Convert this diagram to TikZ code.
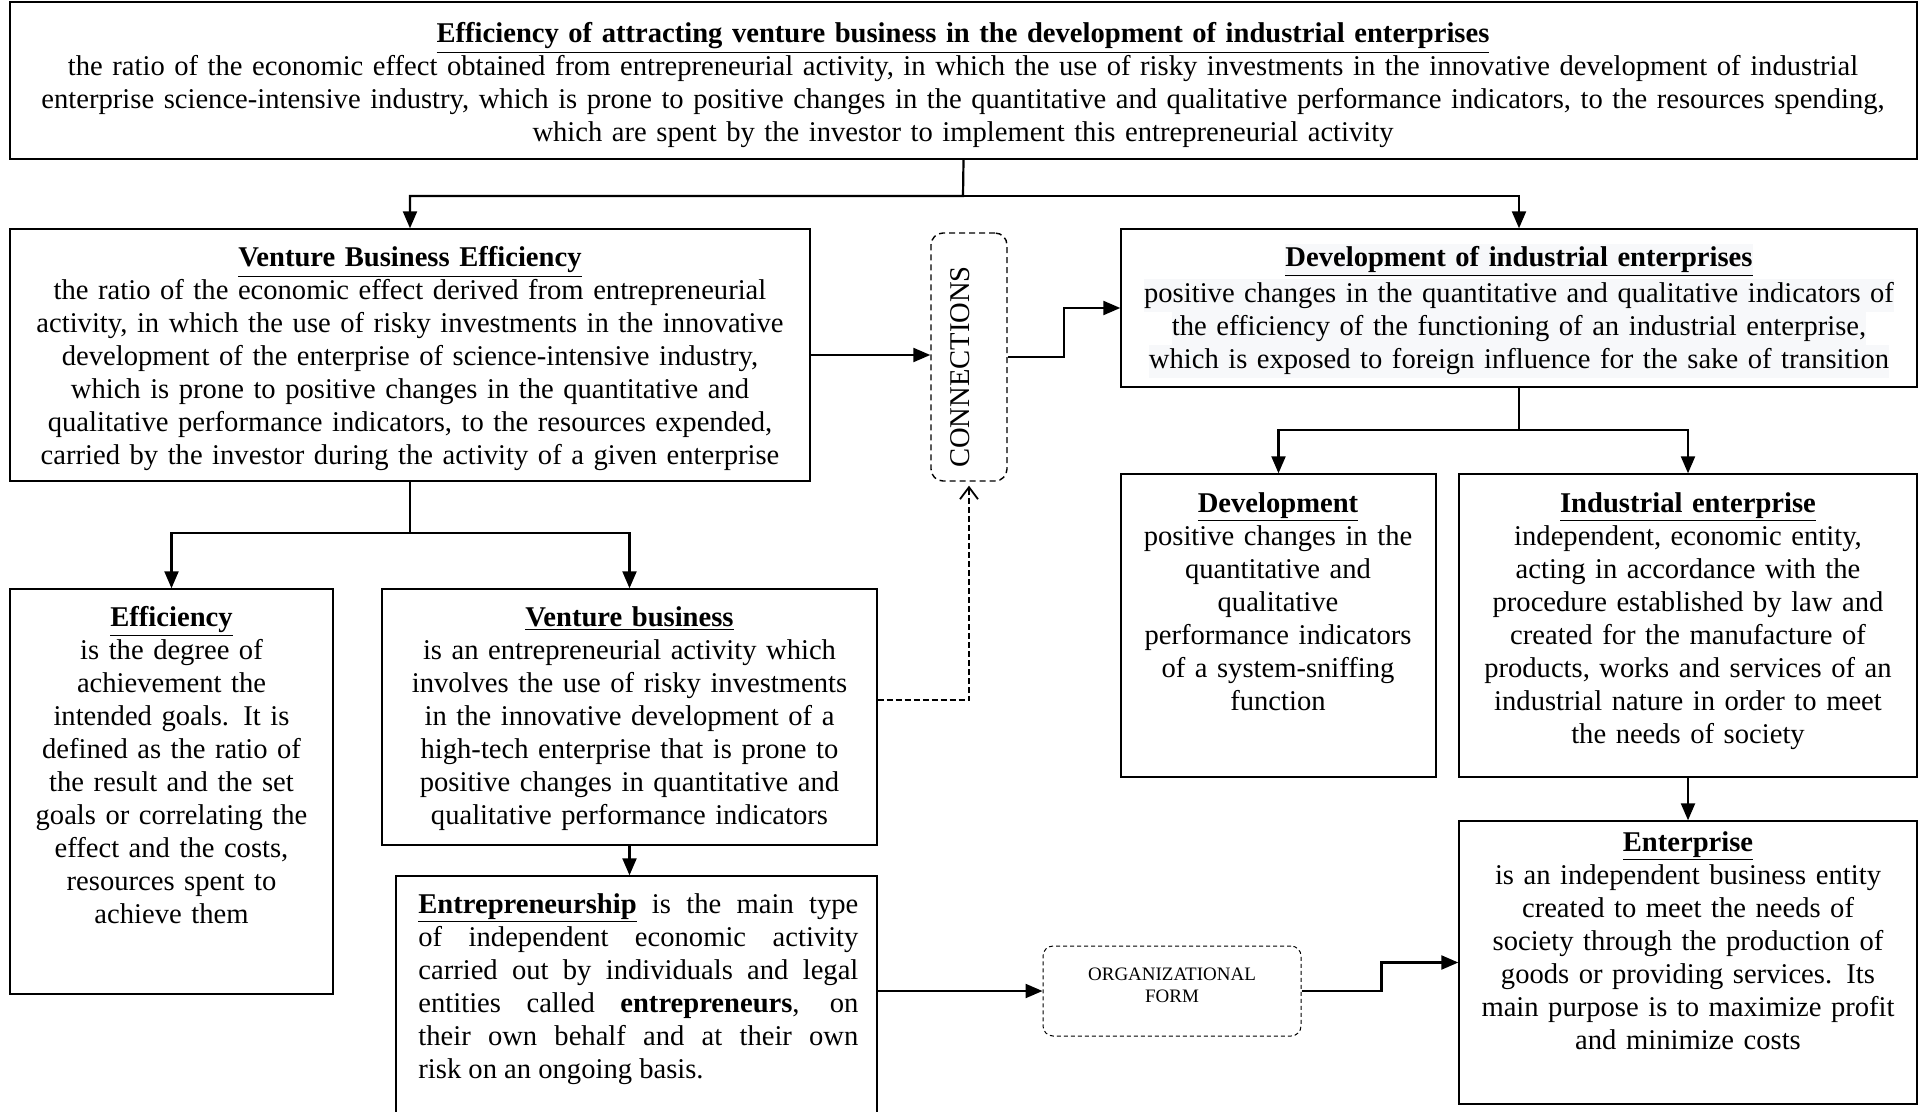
\documentclass[tikz,border=0pt]{standalone}
\usepackage{fontspec}
\setmainfont{Liberation Serif}
\usetikzlibrary{arrows.meta, positioning, fit}
\definecolor{hl}{HTML}{F7F8FA}
\setlength{\fboxsep}{0pt}

\tikzset{
  frame/.style={draw, line width=0.7pt, inner sep=0pt},
  dashframe/.style={draw, dash pattern=on 3pt off 2pt, rounded corners=6pt, line width=0.7pt, inner sep=0pt},
  txt/.style={align=center, inner sep=0pt, anchor=base, font=\fontsize{14.3}{16.5}\selectfont},
  link/.style={line width=1.1pt},
}

\begin{document}
\begin{tikzpicture}[x=0.5pt, y=-0.5pt, >={Triangle[length=8.5pt,width=7pt]}]
	\useasboundingbox (0,0) rectangle (1921,1112);
	\clip (0,0) rectangle (1921,1112);
	\fill[white] (0,0) rectangle (1921,1112);

	% boxes
	\node[frame, fit={(10,2) (1917,159)}] (top) {};
	\node[frame, fit={(10,229) (810,481)}] (vbe) {};
	\node[dashframe, fit={(931,233) (1007,481)}] (conn) {};
	\node[frame, fit={(1121,229) (1917,387)}] (die) {};
	\node[frame, fit={(1121,474) (1436,777)}] (dev) {};
	\node[frame, fit={(1459,474) (1917,777)}] (ind) {};
	\node[frame, fit={(10,589) (333,994)}] (eff) {};
	\node[frame, fit={(382,589) (877,845)}] (vb) {};
	\node[frame, fit={(396,876) (877,1130)}] (entr) {};
	\node[dashframe, dash pattern=on 2pt off 1.5pt, rounded corners=5pt, line width=0.5pt, fit={(1043,946) (1301,1036)}] (org) {};
	\node[frame, fit={(1459,821) (1917,1104)}] (ent) {};

	% texts
	\node[txt, text width=950pt] (topt) at (963,43) {\underline{\textbf{Efficiency of attracting venture business in the development of industrial enterprises}}\\
		the ratio of the economic effect obtained from entrepreneurial activity, in which the use of risky investments in the innovative development of industrial\\
		enterprise science-intensive industry, which is prone to positive changes in the quantitative and qualitative performance indicators, to the resources spending,\\
		which are spent by the investor to implement this entrepreneurial activity};
	\node[txt, text width=420pt] (vbet) at (410,267) {\underline{\textbf{Venture Business Efficiency}}\\
		the ratio of the economic effect derived from entrepreneurial\\
		activity, in which the use of risky investments in the innovative\\
		development of the enterprise of science-intensive industry,\\
		which is prone to positive changes in the quantitative and\\
		qualitative performance indicators, to the resources expended,\\
		carried by the investor during the activity of a given enterprise};
	\node[txt, rotate=90] (connt) at (969,367) {CONNECTIONS};
	\node[txt, text width=420pt] (diet) at (1519,267) {\colorbox{hl}{\strut\underline{\textbf{Development of industrial enterprises}}}\\
		\colorbox{hl}{\strut positive changes in the quantitative and qualitative indicators of}\\
		\colorbox{hl}{\strut the efficiency of the functioning of an industrial enterprise,}\\
		\colorbox{hl}{\strut which is exposed to foreign influence for the sake of transition}};
	\node[txt, text width=200pt] (devt) at (1278,512) {\underline{\textbf{Development}}\\
		positive changes in the\\
		quantitative and\\
		qualitative\\
		performance indicators\\
		of a system-sniffing\\
		function};
	\node[txt, text width=260pt] (indt) at (1688,512) {\underline{\textbf{Industrial enterprise}}\\
		independent, economic entity,\\
		acting in accordance with the\\
		procedure established by law and\\
		created for the manufacture of\\
		products, works and services of an\\
		industrial nature in order to meet\\
		the needs of society};
	\node[txt, text width=200pt] (efft) at (171.5,626) {\underline{\textbf{Efficiency}}\\
		is the degree of\\
		achievement the\\
		intended goals. It is\\
		defined as the ratio of\\
		the result and the set\\
		goals or correlating the\\
		effect and the costs,\\
		resources spent to\\
		achieve them};
	\node[txt, text width=280pt] (vbt) at (629.5,626) {\underline{\textbf{Venture business}}\\
		is an entrepreneurial activity which\\
		involves the use of risky investments\\
		in the innovative development of a\\
		high-tech enterprise that is prone to\\
		positive changes in quantitative and\\
		qualitative performance indicators};
	\node[txt, align=justify, anchor=base west, text width=220pt] (entrt) at (418,913) {\underline{\textbf{Entrepreneurship}} is the main type\linebreak
		of independent economic activity\linebreak
		carried out by individuals and legal\linebreak
		entities called \textbf{entrepreneurs}, on\linebreak
		their own behalf and at their own\linebreak
		risk on an ongoing basis.};
	\node[txt, font=\fontsize{9.5}{11}\selectfont, text width=120pt] (orgt) at (1172,980) {ORGANIZATIONAL\\FORM};
	\node[txt, text width=260pt] (entt) at (1688,851) {\underline{\textbf{Enterprise}}\\
		is an independent business entity\\
		created to meet the needs of\\
		society through the production of\\
		goods or providing services. Its\\
		main purpose is to maximize profit\\
		and minimize costs};

	% connectors
	\coordinate (j1) at (963,196);
	\draw[link,->] (top.south) -- (j1) -| (vbe.north);
	\draw[link,->] (j1) -| (die.north);
	\draw[link,->] (vbe.east) -- (vbe.east -| conn.west);
	\draw[link,->] (conn.east) -- ++(56,0) |- (die.west);
	\coordinate (j2) at (1519,430);
	\draw[link,->] (die.south) -- (j2) -| (dev.north);
	\draw[link,->] (j2) -| (ind.north);
	\coordinate (j3) at (410,533);
	\draw[link,->] (vbe.south) -- (j3) -| (eff.north);
	\draw[link,->] (j3) -| (vb.north);
	\draw[link,->] (vb.south) -- (vb.south |- entr.north);
	\draw[line width=0.9pt, dash pattern=on 3pt off 1.5pt, -{Straight Barb[length=6pt,width=9pt]}] ([yshift=-56pt]vb.north east) -| ([yshift=-2pt]conn.south);
	\draw[link,->] (org.west -| entr.east) -- (org.west);
	\draw[link,->] (org.east) -- ++(80,0) |- (ent.west);
	\draw[link,->] (ind.south) -- (ent.north);
\end{tikzpicture}
\end{document}
